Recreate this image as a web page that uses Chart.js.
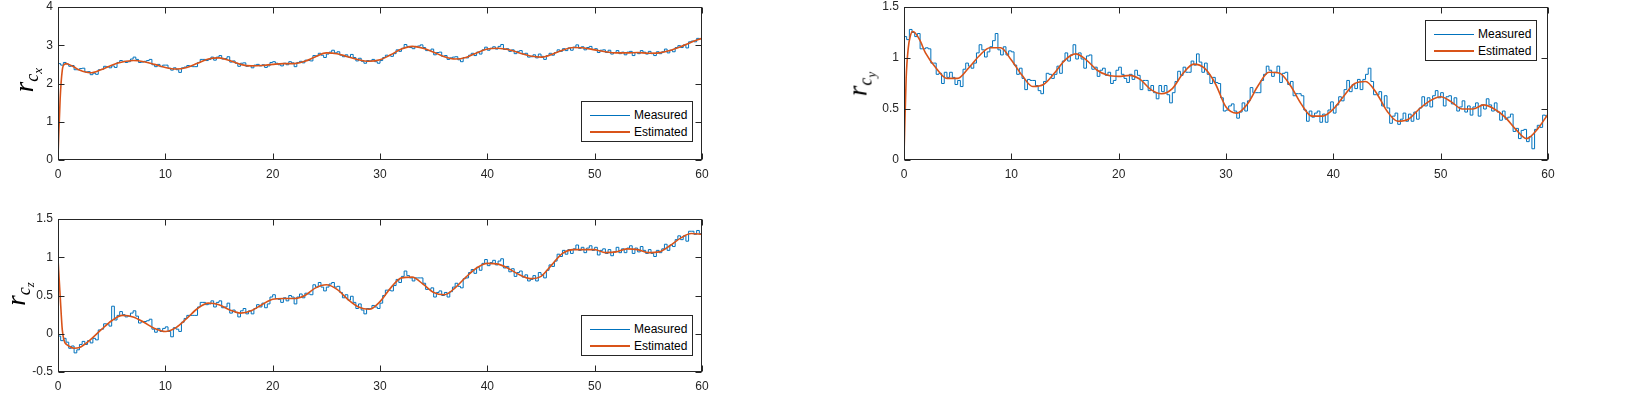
<!DOCTYPE html>
<html><head><meta charset="utf-8">
<script src="https://cdn.jsdelivr.net/npm/chart.js@4.4.1/dist/chart.umd.min.js"></script>
<style>
html,body{margin:0;padding:0;background:#fff;}
body{width:1633px;height:404px;overflow:hidden;position:relative;font-family:"Liberation Sans",Arial,sans-serif;}
canvas{position:absolute;}
.ylab{position:absolute;white-space:nowrap;transform:translate(-50%,-50%) rotate(-90deg);font-family:"Liberation Serif","DejaVu Serif",serif;font-style:italic;color:#000;font-size:27px;line-height:1;}
.ylab .c{font-size:18px;position:relative;top:5px;}
.ylab .s{font-size:13px;position:relative;top:4px;}
.legend{position:absolute;width:112px;height:41px;border:1px solid #262626;background:#fff;box-sizing:border-box;font-size:12px;color:#000;}
.legend .row{position:absolute;left:0;width:100%;height:14px;line-height:14px;}
.legend .sw{position:absolute;left:8px;width:40px;}
.legend .tx{position:absolute;left:52px;top:0;}
</style>
</head><body>
<canvas id="c1" width="720" height="190" style="left:0;top:0;width:720px;height:190px"></canvas>
<canvas id="c2" width="720" height="190" style="left:846px;top:0;width:720px;height:190px"></canvas>
<canvas id="c3" width="720" height="190" style="left:0;top:212px;width:720px;height:190px"></canvas>

<div class="ylab" style="left:24px;top:80px"><span>r</span><span class="c">c<span class="s">x</span></span></div>
<div class="ylab" style="left:858px;top:84px"><span>r</span><span class="c">c<span class="s">y</span></span></div>
<div class="ylab" style="left:16px;top:294px"><span>r</span><span class="c">c<span class="s">z</span></span></div>

<div id="lg1" class="legend" style="left:581px;top:101px"></div>
<div id="lg2" class="legend" style="left:1425px;top:20px"></div>
<div id="lg3" class="legend" style="left:581px;top:315px"></div>

<script>
// ---------- DATA ----------
const seriesNames = ["Measured", "Estimated"];
const xTicks = [0, 10, 20, 30, 40, 50, 60];
const yTicksCx = [0, 1, 2, 3, 4];
const yTicksCy = [0, 0.5, 1, 1.5];
const yTicksCz = [-0.5, 0, 0.5, 1, 1.5];

// sample times of the measured signals (s)
const measTime = [
0,0.25,0.5,0.75,1,1.25,1.5,1.75,2,2.25,2.5,2.75,3,3.25,3.5,3.75,4,4.25,4.5,4.75,5,5.25,5.5,5.75,6,6.25,6.5,6.75,7,7.25,7.5,7.75,8,8.25,8.5,8.75,9,9.25,9.5,9.75,
10,10.25,10.5,10.75,11,11.25,11.5,11.75,12,12.25,12.5,12.75,13,13.25,13.5,13.75,14,14.25,14.5,14.75,15,15.25,15.5,15.75,16,16.25,16.5,16.75,17,17.25,17.5,17.75,18,18.25,18.5,18.75,19,19.25,19.5,19.75,
20,20.25,20.5,20.75,21,21.25,21.5,21.75,22,22.25,22.5,22.75,23,23.25,23.5,23.75,24,24.25,24.5,24.75,25,25.25,25.5,25.75,26,26.25,26.5,26.75,27,27.25,27.5,27.75,28,28.25,28.5,28.75,29,29.25,29.5,29.75,
30,30.25,30.5,30.75,31,31.25,31.5,31.75,32,32.25,32.5,32.75,33,33.25,33.5,33.75,34,34.25,34.5,34.75,35,35.25,35.5,35.75,36,36.25,36.5,36.75,37,37.25,37.5,37.75,38,38.25,38.5,38.75,39,39.25,39.5,39.75,
40,40.25,40.5,40.75,41,41.25,41.5,41.75,42,42.25,42.5,42.75,43,43.25,43.5,43.75,44,44.25,44.5,44.75,45,45.25,45.5,45.75,46,46.25,46.5,46.75,47,47.25,47.5,47.75,48,48.25,48.5,48.75,49,49.25,49.5,49.75,
50,50.25,50.5,50.75,51,51.25,51.5,51.75,52,52.25,52.5,52.75,53,53.25,53.5,53.75,54,54.25,54.5,54.75,55,55.25,55.5,55.75,56,56.25,56.5,56.75,57,57.25,57.5,57.75,58,58.25,58.5,58.75,59,59.25,59.5,59.75,
60];

const rcxMeasured = [
2.52,2.48,2.55,2.51, 2.45,2.47,2.36,2.36, 2.39,2.40,2.30,2.31, 2.23,2.27,2.24,2.36, 2.37,2.45,2.44,2.41, 2.46,2.42,2.55,2.60, 2.58,2.55,2.57,2.64, 2.69,2.63,2.55,2.56, 2.58,2.60,2.63,2.49, 2.44,2.50,2.44,2.48,
2.48,2.40,2.35,2.41, 2.36,2.29,2.41,2.43, 2.47,2.45,2.44,2.44, 2.55,2.63,2.63,2.60, 2.63,2.69,2.61,2.69, 2.73,2.64,2.65,2.70, 2.56,2.59,2.53,2.45, 2.53,2.54,2.45,2.47, 2.41,2.48,2.50,2.46, 2.49,2.42,2.46,2.55,
2.57,2.53,2.49,2.46, 2.53,2.49,2.57,2.54, 2.44,2.55,2.58,2.54, 2.61,2.60,2.59,2.73, 2.72,2.79,2.74,2.68, 2.77,2.82,2.87,2.80, 2.83,2.74,2.70,2.75, 2.69,2.76,2.68,2.59, 2.66,2.58,2.53,2.60, 2.59,2.63,2.57,2.53,
2.60,2.68,2.74,2.73, 2.71,2.78,2.88,2.84, 2.92,3.02,2.97,2.94, 2.91,2.97,2.98,3.01, 2.94,2.86,2.86,2.90, 2.75,2.81,2.82,2.71, 2.73,2.63,2.67,2.69, 2.70,2.62,2.57,2.68, 2.67,2.74,2.79,2.73, 2.82,2.77,2.88,2.95,
2.87,2.92,2.96,2.90, 2.97,3.02,2.89,2.91, 2.84,2.88,2.78,2.84, 2.86,2.77,2.79,2.69, 2.70,2.75,2.67,2.77, 2.71,2.63,2.73,2.79, 2.74,2.81,2.88,2.84, 2.91,2.86,2.93,2.87, 2.95,3.01,2.92,2.96, 2.88,2.94,2.97,2.89,
2.91,2.81,2.87,2.88, 2.81,2.87,2.77,2.81, 2.86,2.78,2.82,2.75, 2.82,2.84,2.73,2.81, 2.78,2.86,2.82,2.77, 2.84,2.78,2.73,2.83, 2.78,2.83,2.90,2.80, 2.87,2.83,2.94,2.99, 2.94,3.01,2.93,3.09, 3.11,3.09,3.18,3.17,
3.16];

const rcyMeasured = [
1.21,1.18,1.28,1.25, 1.21,1.24,1.09,1.09, 1.10,1.09,0.95,0.95, 0.84,0.85,0.75,0.86, 0.81,0.86,0.81,0.74, 0.78,0.72,0.89,0.95, 0.92,0.90,0.95,1.05, 1.13,1.08,1.01,1.06, 1.11,1.17,1.24,1.08, 1.03,1.11,1.03,1.07,
1.06,0.93,0.84,0.90, 0.80,0.69,0.79,0.78, 0.78,0.73,0.68,0.65, 0.77,0.85,0.84,0.80, 0.84,0.92,0.85,0.97, 1.05,0.97,1.03,1.13, 0.99,1.05,0.99,0.90, 1.02,1.03,0.89,0.91, 0.82,0.88,0.90,0.83, 0.86,0.75,0.78,0.88,
0.91,0.84,0.80,0.76, 0.84,0.79,0.88,0.83, 0.69,0.78,0.78,0.68, 0.73,0.66,0.60,0.73, 0.67,0.73,0.64,0.56, 0.66,0.77,0.87,0.83, 0.91,0.86,0.86,0.97, 0.93,1.04,0.96,0.86, 0.95,0.84,0.75,0.81, 0.76,0.75,0.61,0.48,
0.49,0.53,0.55,0.48, 0.41,0.47,0.56,0.48, 0.58,0.71,0.66,0.66, 0.66,0.78,0.84,0.92, 0.88,0.82,0.86,0.92, 0.76,0.85,0.86,0.74, 0.77,0.63,0.65,0.65, 0.63,0.49,0.38,0.48, 0.42,0.46,0.48,0.37, 0.45,0.37,0.49,0.57,
0.46,0.54,0.62,0.58, 0.69,0.78,0.67,0.74, 0.70,0.79,0.69,0.79, 0.84,0.90,0.77,0.64, 0.64,0.67,0.53,0.63, 0.51,0.36,0.43,0.46, 0.35,0.40,0.46,0.38, 0.45,0.38,0.47,0.40, 0.51,0.62,0.53,0.61, 0.52,0.63,0.68,0.61,
0.66,0.53,0.62,0.63, 0.55,0.61,0.48,0.52, 0.58,0.47,0.53,0.44, 0.52,0.56,0.43,0.54, 0.50,0.60,0.54,0.48, 0.56,0.47,0.39,0.48, 0.40,0.42,0.45,0.28, 0.31,0.21,0.29,0.30, 0.18,0.23,0.11,0.30, 0.34,0.32,0.44,0.43,
0.43];

const rczMeasured = [
-0.03,-0.09,-0.06,-0.11, -0.19,-0.16,-0.25,-0.21, -0.14,-0.10,-0.14,-0.09, -0.12,-0.06,-0.08,0.05, 0.06,0.13,0.13,0.10, 0.36,0.18,0.24,0.29, 0.25,0.22,0.23,0.27, 0.30,0.23,0.14,0.16, 0.16,0.17,0.19,0.06, 0.02,0.07,0.03,0.07,
0.09,0.03,-0.04,0.08, 0.06,0.03,0.15,0.20, 0.24,0.24,0.24,0.24, 0.35,0.41,0.41,0.38, 0.39,0.43,0.35,0.41, 0.43,0.34,0.35,0.40, 0.27,0.31,0.28,0.22, 0.30,0.33,0.26,0.30, 0.26,0.33,0.38,0.35, 0.40,0.34,0.39,0.48,
0.51,0.46,0.45,0.41, 0.47,0.43,0.50,0.48, 0.39,0.48,0.52,0.47, 0.53,0.52,0.51,0.64, 0.61,0.67,0.61,0.56, 0.61,0.65,0.67,0.61, 0.62,0.54,0.47,0.51, 0.44,0.49,0.41,0.33, 0.39,0.31,0.26,0.33, 0.33,0.37,0.35,0.33,
0.40,0.50,0.57,0.57, 0.56,0.63,0.71,0.67, 0.75,0.82,0.76,0.73, 0.69,0.73,0.73,0.73, 0.66,0.58,0.58,0.60, 0.48,0.54,0.56,0.50, 0.54,0.48,0.55,0.61, 0.66,0.62,0.60,0.72, 0.73,0.80,0.84,0.79, 0.87,0.83,0.92,0.97,
0.89,0.93,0.96,0.90, 0.95,0.98,0.86,0.88, 0.81,0.85,0.75,0.80, 0.82,0.74,0.77,0.69, 0.71,0.76,0.69,0.80, 0.77,0.73,0.83,0.90, 0.88,0.95,1.04,1.01, 1.09,1.04,1.10,1.05, 1.11,1.16,1.09,1.13, 1.06,1.12,1.15,1.09,
1.13,1.03,1.09,1.11, 1.05,1.10,1.02,1.07, 1.13,1.06,1.11,1.06, 1.12,1.15,1.05,1.12, 1.07,1.14,1.09,1.05, 1.10,1.05,1.01,1.09, 1.06,1.11,1.17,1.09, 1.16,1.14,1.23,1.28, 1.23,1.28,1.21,1.34, 1.34,1.30,1.35,1.31,
1.29];

// times of the estimated (smooth) curves (s)
const estTime = [0,0.2,0.4,0.6,0.8,1,1.5,2,
3,4,5,6,7,8,9,10,11,12,13,14,15,16,17,18,19,20,21,22,23,24,25,26,27,28,29,30,
31,32,33,34,35,36,37,38,39,40,41,42,43,44,45,46,47,48,49,50,51,52,53,54,55,56,57,58,59,60];

const rcxEstimated = [0.1,1.6,2.35,2.5,2.52,2.5,2.43,2.35,
2.28,2.36,2.48,2.56,2.6,2.57,2.5,2.42,2.38,2.42,2.53,2.64,2.67,2.6,2.5,2.46,2.47,2.5,2.52,2.52,2.58,2.7,2.8,2.78,2.7,2.62,2.58,2.62,
2.75,2.9,2.97,2.92,2.82,2.7,2.64,2.68,2.8,2.9,2.92,2.88,2.8,2.72,2.69,2.76,2.87,2.94,2.93,2.88,2.83,2.8,2.8,2.81,2.79,2.8,2.86,2.96,3.08,3.18];

const rcyEstimated = [0.05,0.8,1.1,1.22,1.26,1.25,1.17,1.05,
0.9,0.8,0.8,0.9,1.02,1.1,1.1,0.98,0.83,0.72,0.74,0.85,0.98,1.04,0.98,0.88,0.83,0.82,0.83,0.79,0.69,0.65,0.7,0.85,0.94,0.9,0.75,0.52,
0.46,0.55,0.73,0.86,0.85,0.73,0.55,0.43,0.43,0.5,0.63,0.75,0.77,0.66,0.48,0.38,0.4,0.5,0.58,0.62,0.57,0.5,0.5,0.54,0.5,0.42,0.3,0.21,0.3,0.45];

const rczEstimated = [0.98,0.5,0.05,-0.1,-0.14,-0.16,-0.19,-0.18,
-0.08,0.05,0.17,0.24,0.22,0.15,0.07,0.03,0.08,0.2,0.33,0.4,0.38,0.31,0.27,0.3,0.38,0.45,0.46,0.46,0.5,0.6,0.64,0.58,0.45,0.35,0.32,0.42,
0.6,0.73,0.74,0.65,0.54,0.51,0.6,0.74,0.86,0.92,0.91,0.85,0.77,0.72,0.75,0.9,1.05,1.1,1.1,1.1,1.06,1.07,1.11,1.1,1.06,1.07,1.15,1.25,1.31,1.3];

// ---------- STYLE ----------
const blue = '#0072BD', orange = '#D95319', axisCol = '#262626';
const tickFont = {family:'"Liberation Sans", Arial, sans-serif', size:12};

const boxTicks = {
  id:'boxTicks',
  afterDatasetsDraw(chart){
    const {ctx, chartArea:a, scales:{x,y}} = chart;
    ctx.save();
    ctx.strokeStyle = axisCol; ctx.lineWidth = 1;
    const L = Math.round(a.left)+0.5, R = Math.round(a.right)-0.5, T = Math.round(a.top)+0.5, B = Math.round(a.bottom)-0.5;
    ctx.strokeRect(L, T, R-L, B-T);
    const tl = 6;
    ctx.beginPath();
    x.ticks.forEach(t => { const p = Math.round(x.getPixelForValue(t.value))+0.5; ctx.moveTo(p,B); ctx.lineTo(p,B-tl); ctx.moveTo(p,T); ctx.lineTo(p,T+tl); });
    y.ticks.forEach(t => { const p = Math.round(y.getPixelForValue(t.value))+0.5; ctx.moveTo(L,p); ctx.lineTo(L+tl,p); ctx.moveTo(R,p); ctx.lineTo(R-tl,p); });
    ctx.stroke();
    ctx.restore();
  }
};

function pairs(xs, ys){ return ys.map((v,i) => ({x: xs[i], y: v})); }

function makeChart(id, meas, est, yTicks, ymin, ymax){
  return new Chart(document.getElementById(id), {
    type:'line',
    data:{ datasets:[
      {label:seriesNames[0], data:pairs(measTime, meas), stepped:true, borderColor:blue, borderWidth:1, pointRadius:0, fill:false, order:1},
      {label:seriesNames[1], data:pairs(estTime, est), borderColor:orange, borderWidth:1.6, pointRadius:0, fill:false, cubicInterpolationMode:'monotone', order:0}
    ]},
    options:{
      responsive:false, animation:false, devicePixelRatio:1,
      layout:{padding:{left:0, top:7, right:18, bottom:0}},
      plugins:{legend:{display:false}, tooltip:{enabled:false}},
      scales:{
        x:{type:'linear', min:0, max:60,
           afterBuildTicks:s => { s.ticks = xTicks.map(v => ({value:v})); },
           afterFit:s => { s.height = 30; s.paddingLeft = 0; s.paddingRight = 0; },
           ticks:{font:tickFont, color:axisCol, padding:7, maxRotation:0, autoSkip:false, callback:v => String(v)},
           grid:{display:false, drawTicks:false}, border:{display:false}},
        y:{type:'linear', min:ymin, max:ymax,
           afterBuildTicks:s => { s.ticks = yTicks.map(v => ({value:v})); },
           afterFit:s => { s.width = 58; s.paddingTop = 0; s.paddingBottom = 0; },
           ticks:{font:tickFont, color:axisCol, padding:5, autoSkip:false, callback:v => String(v)},
           grid:{display:false, drawTicks:false}, border:{display:false}}
      }
    },
    plugins:[boxTicks]
  });
}

makeChart('c1', rcxMeasured, rcxEstimated, yTicksCx, 0, 4);
makeChart('c2', rcyMeasured, rcyEstimated, yTicksCy, 0, 1.5);
makeChart('c3', rczMeasured, rczEstimated, yTicksCz, -0.5, 1.5);

function buildLegend(id){
  const el = document.getElementById(id);
  const rows = [{name:seriesNames[0], color:blue, h:1}, {name:seriesNames[1], color:orange, h:2}];
  rows.forEach((r,i) => {
    const row = document.createElement('div');
    row.className = 'row';
    row.style.top = (6 + i*17) + 'px';
    const sw = document.createElement('div');
    sw.className = 'sw';
    sw.style.top = (7 - Math.floor(r.h/2)) + 'px';
    sw.style.height = r.h + 'px';
    sw.style.background = r.color;
    const tx = document.createElement('span');
    tx.className = 'tx';
    tx.textContent = r.name;
    row.appendChild(sw); row.appendChild(tx);
    el.appendChild(row);
  });
}
buildLegend('lg1'); buildLegend('lg2'); buildLegend('lg3');
</script>
</body></html>
